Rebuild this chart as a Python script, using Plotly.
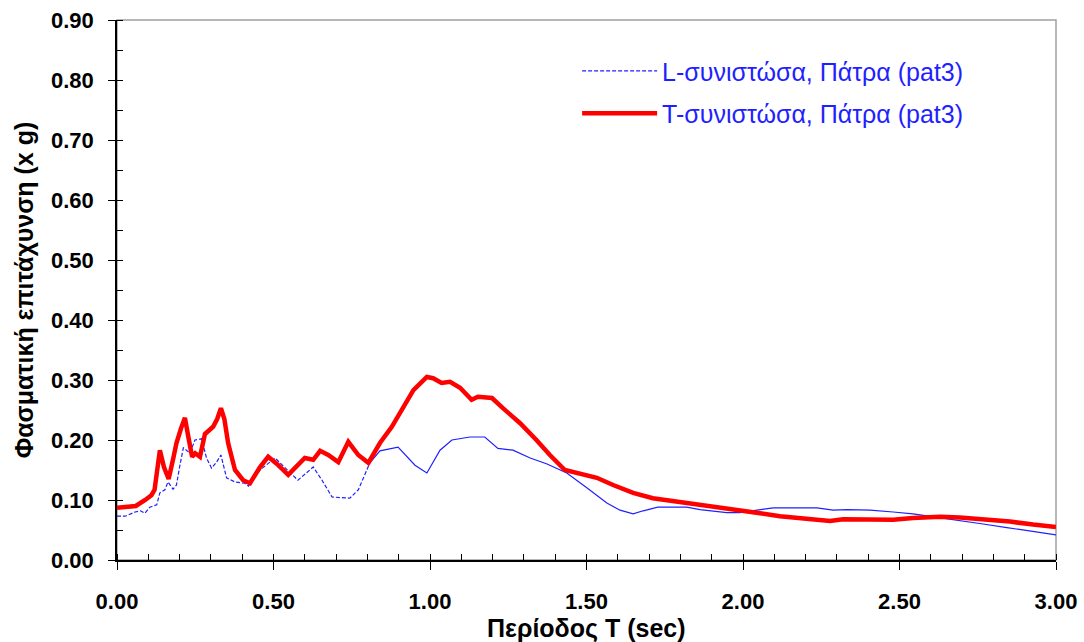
import numpy as np
import plotly.graph_objects as go

# T-component (red, thick)
T_red = [0.00, 0.03, 0.06, 0.09, 0.11, 0.12, 0.137, 0.15, 0.165, 0.18, 0.19, 0.205, 0.217,
         0.228, 0.24, 0.25, 0.265, 0.281, 0.307, 0.32, 0.332, 0.343, 0.355, 0.377, 0.403,
         0.425, 0.44, 0.457, 0.483, 0.511, 0.547, 0.578, 0.60, 0.627, 0.649, 0.675, 0.707,
         0.739, 0.771, 0.803, 0.84, 0.878, 0.915, 0.947, 0.99, 1.01, 1.037, 1.064, 1.096,
         1.133, 1.153, 1.198, 1.233, 1.288, 1.34, 1.383, 1.431, 1.479, 1.533, 1.585, 1.649,
         1.712, 1.80, 1.863, 1.927, 1.997, 2.054, 2.118, 2.182, 2.246, 2.278, 2.32, 2.40,
         2.44, 2.48, 2.543, 2.63, 2.693, 2.767, 2.853, 2.927, 3.00]
SA_red = [0.087, 0.088, 0.090, 0.100, 0.108, 0.117, 0.183, 0.155, 0.135, 0.170, 0.195, 0.220, 0.237,
          0.205, 0.172, 0.178, 0.172, 0.210, 0.222, 0.235, 0.253, 0.235, 0.195, 0.150, 0.133,
          0.128, 0.140, 0.155, 0.172, 0.160, 0.142, 0.160, 0.170, 0.167, 0.182, 0.175, 0.163,
          0.197, 0.175, 0.162, 0.195, 0.222, 0.255, 0.283, 0.305, 0.303, 0.295, 0.297, 0.287,
          0.267, 0.272, 0.270, 0.253, 0.228, 0.200, 0.175, 0.150, 0.143, 0.137, 0.125, 0.112,
          0.103, 0.097, 0.092, 0.087, 0.082, 0.078, 0.073, 0.070, 0.068, 0.065, 0.068, 0.067,
          0.066, 0.067, 0.070, 0.072, 0.071, 0.068, 0.064, 0.059, 0.055]

# L-component (blue, thin)
T_blue = [0.00, 0.026, 0.058, 0.075, 0.089, 0.105, 0.127, 0.137, 0.153, 0.163, 0.179, 0.19,
          0.20, 0.212, 0.233, 0.249, 0.27, 0.286, 0.302, 0.318, 0.332, 0.35, 0.377, 0.408,
          0.42, 0.457, 0.505, 0.543, 0.578, 0.627, 0.655, 0.687, 0.744, 0.771, 0.808, 0.84,
          0.898, 0.952, 0.99, 1.032, 1.07, 1.128, 1.175, 1.217, 1.265, 1.32, 1.374, 1.437,
          1.502, 1.565, 1.607, 1.649, 1.681, 1.728, 1.82, 1.863, 1.948, 1.99, 2.045, 2.097,
          2.236, 2.288, 2.332, 2.406, 2.48, 2.543, 2.62, 2.693, 2.767, 2.843, 2.927, 3.00]
SA_blue = [0.073, 0.073, 0.080, 0.082, 0.078, 0.088, 0.092, 0.112, 0.117, 0.130, 0.118, 0.125,
           0.155, 0.187, 0.178, 0.200, 0.202, 0.170, 0.153, 0.163, 0.175, 0.137, 0.130, 0.128,
           0.123, 0.150, 0.170, 0.150, 0.133, 0.155, 0.133, 0.105, 0.103, 0.117, 0.162, 0.182,
           0.188, 0.158, 0.145, 0.183, 0.200, 0.205, 0.205, 0.186, 0.183, 0.170, 0.160, 0.145,
           0.120, 0.095, 0.083, 0.077, 0.082, 0.088, 0.088, 0.084, 0.079, 0.079, 0.083, 0.087,
           0.087, 0.083, 0.084, 0.083, 0.080, 0.077, 0.071, 0.066, 0.060, 0.054, 0.048, 0.042]

x_ticks = [0.0, 0.5, 1.0, 1.5, 2.0, 2.5, 3.0]
y_ticks = [0.0, 0.1, 0.2, 0.3, 0.4, 0.5, 0.6, 0.7, 0.8, 0.9]

name_L = "L-συνιστώσα, Πάτρα (pat3)"
name_T = "T-συνιστώσα, Πάτρα (pat3)"
x_title = "Περίοδος T (sec)"
y_title = "Φασματική επιτάχυνση (x g)"

BLUE = "#1f1fff"
RED = "#ff0000"
FONT = "Liberation Sans, Arial, sans-serif"

Tb = np.array(T_blue)
Sb = np.array(SA_blue)
split = 0.808
m1 = Tb <= split
m2 = Tb >= split

fig = go.Figure()
fig.add_trace(go.Scatter(x=Tb[m1], y=Sb[m1], mode="lines", name=name_L,
                         line=dict(color=BLUE, width=1.2, dash="4px,2px"),
                         legendgroup="L"))
fig.add_trace(go.Scatter(x=Tb[m2], y=Sb[m2], mode="lines", name=name_L,
                         line=dict(color=BLUE, width=1.2),
                         legendgroup="L", showlegend=False))
fig.add_trace(go.Scatter(x=T_red, y=SA_red, mode="lines", name=name_T,
                         line=dict(color=RED, width=4.5),
                         legendgroup="T"))

fig.add_shape(type="rect", xref="paper", yref="paper", x0=0, y0=0, x1=1, y1=1,
              line=dict(color="#a0a0a0", width=1.5), layer="below")

fig.add_annotation(text=x_title, xref="paper", yref="paper", x=0.5, y=-0.127,
                   xanchor="center", yanchor="middle", showarrow=False,
                   font=dict(family=FONT, size=25, color="black", weight="bold"))

fig.update_layout(
    width=1084, height=642,
    margin=dict(l=117, r=28, t=20, b=82, autoexpand=False),
    paper_bgcolor="white", plot_bgcolor="white",
    font=dict(family=FONT, size=17, color="black"),
    legend=dict(x=0.49, y=0.948, xanchor="left", yanchor="top",
                bgcolor="rgba(0,0,0,0)", itemwidth=75,
                font=dict(family=FONT, size=25, color=BLUE),
                tracegroupgap=7, traceorder="grouped"),
    xaxis=dict(range=[0, 3.0], tickvals=x_ticks, tickformat=".2f",
               automargin=False,
               showgrid=False, zeroline=False, showline=True,
               linecolor="black", linewidth=1.5,
               ticks="outside", ticklen=8, tickcolor="black", tickwidth=1.2,
               ticklabelstandoff=13,
               tickfont=dict(family=FONT, size=22, color="black", weight="bold"),
               minor=dict(dtick=0.1, ticks="inside", ticklen=6, tickcolor="black", tickwidth=1)),
    yaxis=dict(range=[0, 0.9], tickvals=y_ticks, tickformat=".2f",
               automargin=False,
               showgrid=False, zeroline=False, showline=True,
               linecolor="black", linewidth=1.5,
               ticks="outside", ticklen=7, tickcolor="black", tickwidth=1.2,
               ticklabelstandoff=10,
               tickfont=dict(family=FONT, size=22, color="black", weight="bold"),
               minor=dict(dtick=0.05, ticks="inside", ticklen=6, tickcolor="black", tickwidth=1),
               title=dict(text=y_title, standoff=10,
                          font=dict(family=FONT, size=25, color="black", weight="bold"))),
)

fig.write_html("out.html")
